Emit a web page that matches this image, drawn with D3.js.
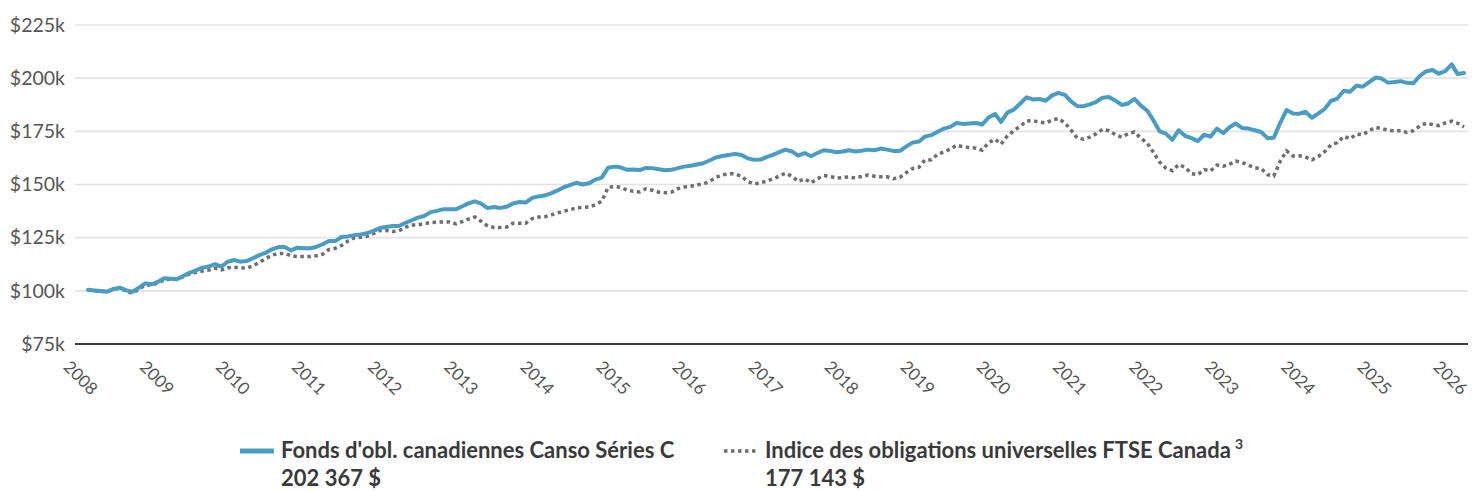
<!DOCTYPE html>
<html><head><meta charset="utf-8">
<script src="https://cdn.jsdelivr.net/npm/d3@7"></script>
<style>
body{margin:0;background:#fff;}
svg{display:block;font-family:Lato,"Noto Sans",sans-serif;}
</style>
</head><body>
<svg id="c" width="1472" height="491"></svg>
<script>
// ---- data (monthly, first month = 2008-03) ----
const firstMonth = [2008, 2]; // year, month index (March)
const fundValues = [
100.5,100.2,99.9,99.6,100.9,101.5,100.2,99.6,101.5,103.5,
103.1,104.3,105.9,105.7,105.4,107.0,108.5,109.6,110.9,111.4,
112.6,111.4,113.7,114.5,113.7,114.0,115.3,116.8,117.8,119.5,
120.6,120.6,119.0,120.3,120.0,120.0,120.6,121.9,123.4,123.4,
125.3,125.6,126.2,126.5,127.1,128.2,129.5,130.0,130.5,130.5,
131.9,133.1,134.4,135.2,137.0,137.6,138.4,138.4,138.4,139.8,
141.1,142.1,141.0,138.9,139.4,139.0,139.5,141.1,141.8,141.5,
143.7,144.4,144.8,145.8,147.1,148.7,149.7,150.8,150.0,150.6,
152.3,153.2,157.9,158.4,158.1,156.9,157.1,156.8,157.8,157.7,
157.2,156.7,156.9,157.7,158.4,158.8,159.4,160.0,161.3,162.7,
163.4,163.9,164.4,163.9,162.3,161.6,161.7,163.0,163.9,165.2,
166.4,165.5,163.6,164.8,163.3,164.8,166.1,165.8,165.2,165.5,
166.1,165.5,165.9,166.4,166.1,166.9,166.4,165.8,165.8,167.8,
169.7,170.2,172.5,173.2,174.8,176.3,177.1,178.9,178.5,178.7,
178.9,178.2,181.5,183.2,179.4,183.9,185.2,188.1,191.0,190.0,
190.2,189.4,191.9,193.1,192.1,189.0,186.9,186.8,187.7,188.9,
190.8,191.1,189.4,187.4,188.1,190.3,187.1,184.7,180.3,175.0,
173.9,171.0,175.5,172.9,171.8,170.4,173.4,172.5,176.3,174.2,
176.8,178.7,176.6,176.3,175.5,174.7,171.8,172.0,179.0,185.0,
183.4,183.3,184.2,181.4,183.3,185.5,189.3,190.4,194.1,193.6,
196.5,196.0,198.1,200.3,199.8,197.9,198.2,198.6,197.8,197.6,
201.1,203.2,203.8,202.1,203.3,206.5,202.0,202.4
];
const indexValues = [
100.5,99.9,99.8,99.6,100.7,101.2,99.9,98.8,100.9,102.7,
102.7,103.7,105.2,105.4,105.4,106.7,107.9,108.7,109.3,109.8,
110.6,109.8,110.9,111.0,110.9,110.6,111.7,113.4,115.0,116.8,
117.6,117.6,116.5,116.1,116.1,116.1,116.5,117.2,119.4,120.0,
121.3,123.4,125.0,125.2,125.6,126.9,128.4,128.4,127.9,128.2,
129.8,131.0,131.0,131.6,132.1,132.3,132.4,132.4,131.5,132.6,
133.7,134.7,132.7,130.5,129.8,129.8,130.0,131.8,131.8,131.8,
134.0,134.7,134.8,135.6,136.6,137.4,138.1,139.0,139.2,139.4,
140.5,142.1,148.7,149.0,148.7,147.4,146.8,146.5,148.0,147.3,
146.4,146.1,146.4,148.0,148.8,149.2,149.8,150.2,151.4,153.3,
154.5,155.0,155.0,153.9,151.4,150.2,150.8,151.6,152.7,153.9,
155.3,153.9,151.4,152.7,150.8,152.7,154.2,153.8,153.0,153.3,
153.6,153.0,153.8,154.4,153.9,153.6,153.6,152.7,153.3,155.5,
157.5,158.1,161.5,161.6,164.2,165.3,166.6,168.5,167.7,167.4,
167.1,166.1,169.7,171.3,169.0,172.9,175.3,177.4,179.8,180.0,
179.4,178.9,180.3,181.0,179.0,175.5,171.9,171.3,172.3,173.9,
176.0,175.3,173.4,172.3,173.9,174.7,171.8,169.4,165.3,160.5,
157.7,156.5,159.4,158.1,155.1,154.6,157.0,156.4,159.1,158.6,
159.4,161.0,160.4,159.1,157.8,157.5,154.6,154.0,161.0,165.8,
163.4,163.5,162.9,161.6,163.1,165.4,168.6,169.7,172.6,171.5,
173.7,173.4,175.3,176.9,176.3,175.5,175.3,175.3,174.5,175.3,
177.5,178.8,178.2,177.7,179.0,179.8,178.8,177.1
];
const yTickValues = [75,100,125,150,175,200,225];
const yearTicks = [2008,2009,2010,2011,2012,2013,2014,2015,2016,2017,2018,2019,2020,2021,2022,2023,2024,2025,2026];
const seriesNames = ["Fonds d'obl. canadiennes Canso Séries C","Indice des obligations universelles FTSE Canada"];
const seriesSup = ["","3"];
const finalLabels = ["202 367 $","177 143 $"];

// ---- drawing ----
const svg = d3.select("#c");
const blue = "#4a9cc2", grey = "#6e6e6e";
const dates = fundValues.map((_, i) => new Date(firstMonth[0], firstMonth[1] + i, 1));
const x = d3.scaleTime().domain([dates[0], dates[dates.length - 1]]).range([88, 1464]);
const y = d3.scaleLinear().domain([75, 225]).range([344, 25]);
const left = 75, right = 1468;

// gridlines
svg.append("g").selectAll("line").data(yTickValues.filter(v => v !== 75)).join("line")
  .attr("x1", left).attr("x2", right)
  .attr("y1", d => y(d)).attr("y2", d => y(d))
  .attr("stroke", "#e3e3e3").attr("stroke-width", 1.6);

// y axis labels
const yAxis = d3.axisLeft(y).tickValues(yTickValues).tickSize(0).tickPadding(0)
  .tickFormat(d => "$" + d + "k");
svg.append("g").attr("transform", `translate(${left - 10},0)`).call(yAxis)
  .call(g => g.select(".domain").remove())
  .selectAll("text").attr("font-size", 19.5).attr("fill", "#555").attr("font-family", "Lato");

// x axis line
svg.append("line").attr("x1", left).attr("x2", right).attr("y1", y(75)).attr("y2", y(75))
  .attr("stroke", "#3d3d3d").attr("stroke-width", 2);

// x labels
svg.append("g").selectAll("text").data(yearTicks).join("text")
  .attr("transform", d => `translate(${x(new Date(d, 0, 1)) - 13},368) rotate(45)`)
  .attr("font-size", 17).attr("fill", "#555")
  .text(d => d);

// lines
const line = d3.line().x((d, i) => x(dates[i])).y(d => y(d)).curve(d3.curveLinear);
svg.append("path").datum(indexValues).attr("d", line)
  .attr("fill", "none").attr("stroke", grey).attr("stroke-width", 3.5)
  .attr("stroke-dasharray", "3.5,3.5");
svg.append("path").datum(fundValues).attr("d", line)
  .attr("fill", "none").attr("stroke", blue).attr("stroke-width", 4)
  .attr("stroke-linejoin", "round").attr("stroke-linecap", "round");

// legend
const legendX = [240, 724];
const lg = svg.append("g");
[0, 1].forEach(k => {
  const g = lg.append("g").attr("transform", `translate(${legendX[k]},0)`);
  g.append("line").attr("x1", 0).attr("x2", 34).attr("y1", 451).attr("y2", 451)
    .attr("stroke", k === 0 ? blue : grey).attr("stroke-width", k === 0 ? 5 : 3.5)
    .attr("stroke-dasharray", k === 0 ? null : "3.5,3.5");
  const t = g.append("text").attr("x", 41).attr("y", 458)
    .attr("font-size", 22).attr("font-weight", 700).attr("fill", "#3a3a3a")
    .text(seriesNames[k]);
  if (seriesSup[k]) t.append("tspan").attr("dx", 4).attr("dy", -9).attr("font-size", 14).text(seriesSup[k]);
  g.append("text").attr("x", 41).attr("y", 486)
    .attr("font-size", 22).attr("font-weight", 700).attr("fill", "#3a3a3a")
    .text(finalLabels[k]);
});
</script>
</body></html>
